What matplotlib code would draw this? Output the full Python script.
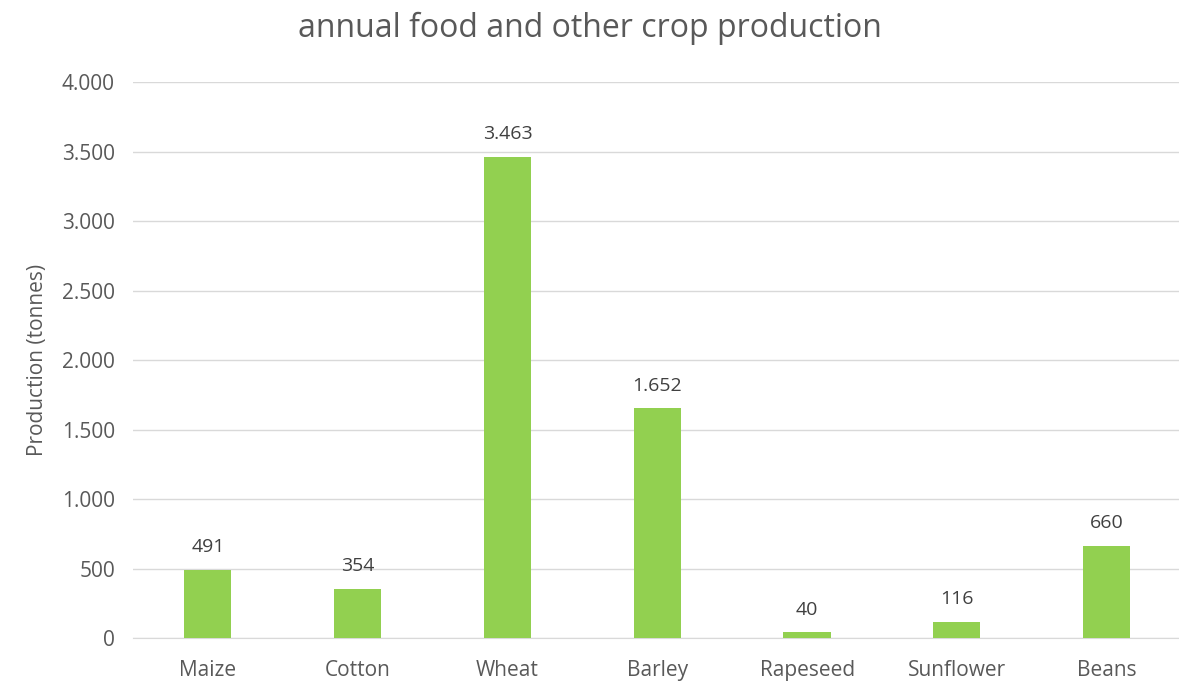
import matplotlib.pyplot as plt
from matplotlib.ticker import FuncFormatter

crops = ["Maize", "Cotton", "Wheat", "Barley", "Rapeseed", "Sunflower", "Beans"]
production = [491, 354, 3463, 1652, 40, 116, 660]
y_ticks = [0, 500, 1000, 1500, 2000, 2500, 3000, 3500, 4000]

def dot_thousands(v, pos=None):
    return f"{int(v):,}".replace(",", ".")

plt.rcParams['font.family'] = ['Open Sans', 'DejaVu Sans']
grey = "#595959"

fig = plt.figure(figsize=(11.79, 6.85), dpi=100)
ax = fig.add_axes([0.1128, 0.0686, 0.8894, 0.8115])

x = range(len(crops))
bars = ax.bar(x, production, width=0.315, color="#92D050", zorder=3)

for b, v in zip(bars, production):
    ax.text(b.get_x() + b.get_width() / 2, v + 100, dot_thousands(v),
            ha="center", va="bottom", fontsize=14, color="#404040")

ax.set_xlim(-0.5, len(crops) - 0.5)
ax.set_ylim(0, 4000)
ax.set_yticks(y_ticks)
ax.yaxis.set_major_formatter(FuncFormatter(dot_thousands))
ax.set_xticks(list(x))
ax.set_xticklabels(crops)
ax.tick_params(axis="both", length=0, labelsize=15, colors=grey)
ax.tick_params(axis="x", pad=16)
ax.tick_params(axis="y", pad=13)
ax.grid(axis="y", color="#D9D9D9", linewidth=1, zorder=0)
for s in ["top", "right", "left"]:
    ax.spines[s].set_visible(False)
ax.spines["bottom"].set_color("#D9D9D9")

ax.set_ylabel("Production (tonnes)", fontsize=15, color=grey, labelpad=10)
fig.text(0.5, 0.958, "annual food and other crop production", ha="center",
         va="center", fontsize=23, color=grey)

fig.savefig("out.png", dpi=100)
